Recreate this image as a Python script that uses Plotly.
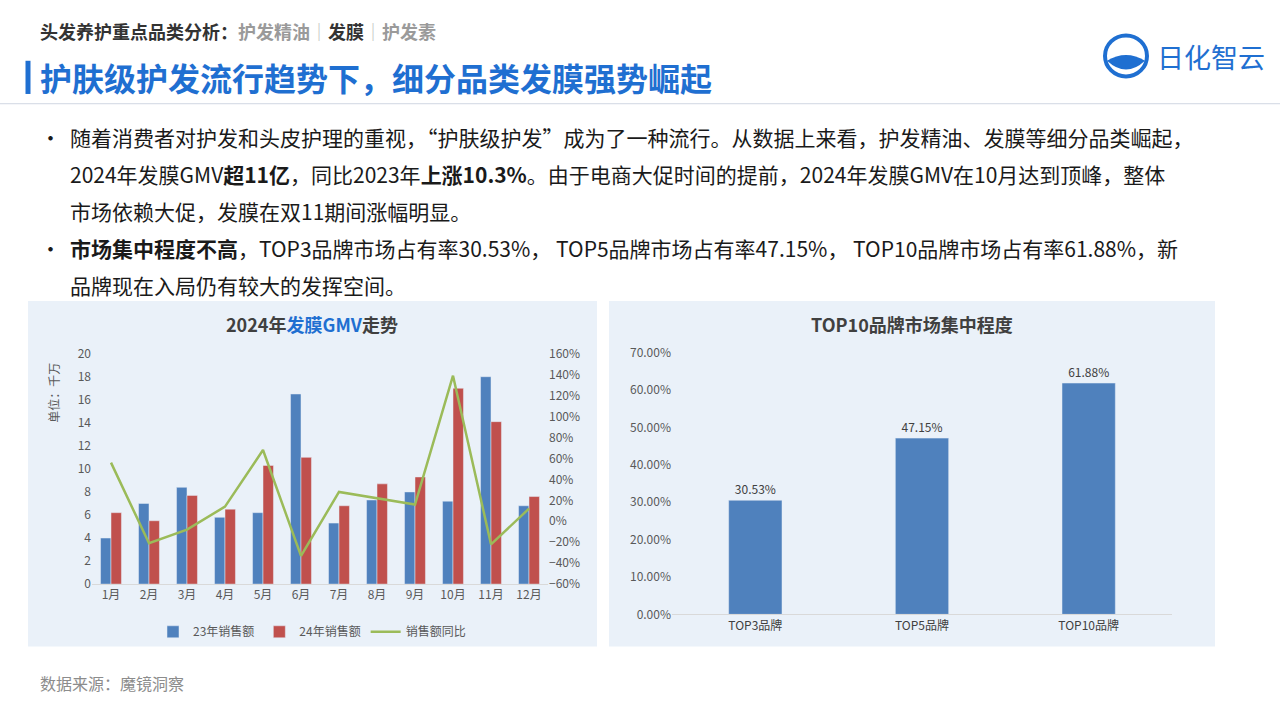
import plotly.graph_objects as go

months = ['1月', '2月', '3月', '4月', '5月', '6月', '7月', '8月', '9月', '10月', '11月', '12月']
sales_23 = [4.0, 7.0, 8.4, 5.8, 6.2, 16.5, 5.3, 7.3, 8.0, 7.2, 18.0, 6.8]
sales_24 = [6.2, 5.5, 7.7, 6.5, 10.3, 11.0, 6.8, 8.7, 9.3, 17.0, 14.1, 7.6]
yoy = [0.56, -0.21, -0.08, 0.14, 0.68, -0.33, 0.28, 0.22, 0.16, 1.39, -0.22, 0.12]

brands = ['TOP3品牌', 'TOP5品牌', 'TOP10品牌']
share = [0.3053, 0.4715, 0.6188]

W, H = 1280, 719
FONT = 'Noto Sans CJK SC'
BLUE, RED, GREEN = '#4f81bd', '#c0504d', '#9bbb59'


def px(x):
    return x / W


def py(y):
    return 1 - y / H


fig = go.Figure()
fig.add_trace(go.Bar(x=months, y=sales_23, name='23年销售额', marker_color=BLUE,
                     xaxis='x', yaxis='y'))
fig.add_trace(go.Bar(x=months, y=sales_24, name='24年销售额', marker_color=RED,
                     xaxis='x', yaxis='y'))
fig.add_trace(go.Scatter(x=months, y=yoy, name='销售额同比', mode='lines',
                         line=dict(color=GREEN, width=2.5), xaxis='x', yaxis='y3'))
fig.add_trace(go.Bar(x=brands, y=share, marker_color=BLUE, width=0.32,
                     text=[f'{v:.2%}' for v in share], textposition='outside',
                     textfont=dict(size=12, color='#404040'),
                     showlegend=False, xaxis='x2', yaxis='y2', cliponaxis=False))

tick = dict(size=12, color='#595959')
fig.update_layout(
    width=W, height=H, margin=dict(l=0, r=0, t=0, b=0),
    paper_bgcolor='white', plot_bgcolor='rgba(0,0,0,0)',
    font=dict(family=FONT, color='#333'),
    barmode='group', bargap=0.45, bargroupgap=0.0,
    xaxis=dict(domain=[px(92), px(548)], anchor='y', tickfont=tick, showline=True,
               linecolor='#d9d9d9', ticks=''),
    yaxis=dict(domain=[py(588), py(352)], range=[0, 20], dtick=2, tickfont=tick,
               showgrid=False, zeroline=False, anchor='x'),
    yaxis3=dict(overlaying='y', side='right', anchor='x', range=[-0.6, 1.6], dtick=0.2,
                tickformat='.0%', tickfont=tick, showgrid=False, zeroline=False),
    xaxis2=dict(domain=[px(672), px(1172)], anchor='y2', tickfont=dict(size=12, color='#404040'),
                showline=True, linecolor='#d9d9d9', ticks=''),
    yaxis2=dict(domain=[py(619), py(351)], range=[0, 0.7], dtick=0.1, tickformat='.2%',
                tickfont=tick, showgrid=False, zeroline=False, anchor='x2'),
    legend=dict(orientation='h', x=px(312), xanchor='center', y=py(622), yanchor='top',
                font=dict(size=12, color='#595959'), bgcolor='rgba(0,0,0,0)'),
)

shapes = [
    dict(type='rect', xref='paper', yref='paper', x0=px(28), x1=px(597), y0=py(652), y1=py(298),
         fillcolor='#eaf1f9', line_width=0, layer='below'),
    dict(type='rect', xref='paper', yref='paper', x0=px(609), x1=px(1215), y0=py(652), y1=py(298),
         fillcolor='#eaf1f9', line_width=0, layer='below'),
    dict(type='line', xref='paper', yref='paper', x0=0, x1=1, y0=py(96), y1=py(96),
         line=dict(color='#d0d7e2', width=1)),
    dict(type='line', xref='paper', yref='paper', x0=px(28), x1=px(28), y0=py(52), y1=py(86),
         line=dict(color='#1f6fd1', width=5)),
    # logo mark
    dict(type='circle', xref='paper', yref='paper', x0=px(1105), x1=px(1147), y0=py(68), y1=py(26),
         line=dict(color='#1f6fd1', width=4)),
    dict(type='path', xref='paper', yref='paper',
         path=f'M {px(1107)},{py(52)} Q {px(1126)},{py(40)} {px(1145)},{py(52)} '
              f'Q {px(1126)},{py(70)} {px(1107)},{py(52)} Z',
         fillcolor='#1f6fd1', line_width=0),
]
fig.update_layout(shapes=shapes)

body = dict(size=21, color='#1a1a1a')
ann = [
    dict(x=px(38), y=py(22), text='<b>头发养护重点品类分析：</b><span style="color:#9a9a9a"><b>护发精油</b></span>'
         '<span style="color:#bbb">│</span><b>发膜</b><span style="color:#bbb">│</span>'
         '<span style="color:#9a9a9a"><b>护发素</b></span>',
         font=dict(size=18, color='#333')),
    dict(x=px(38), y=py(69), text='<b>护肤级护发流行趋势下，细分品类发膜强势崛起</b>',
         font=dict(size=32, color='#1f6fd1')),
    dict(x=px(1155), y=py(48), text='日化智云', font=dict(size=27, color='#1f6fd1')),
    dict(x=px(38), y=py(130), text='•', font=body),
    dict(x=px(68), y=py(130), text='随着消费者对护发和头皮护理的重视，“护肤级护发”成为了一种流行。从数据上来看，护发精油、发膜等细分品类崛起，',
         font=body),
    dict(x=px(68), y=py(168), text='2024年发膜GMV<b>超11亿</b>，同比2023年<b>上涨10.3%</b>。由于电商大促时间的提前，2024年发膜GMV在10月达到顶峰，整体',
         font=body),
    dict(x=px(68), y=py(206), text='市场依赖大促，发膜在双11期间涨幅明显。', font=body),
    dict(x=px(38), y=py(244), text='•', font=body),
    dict(x=px(68), y=py(244), text='<b>市场集中程度不高</b>，TOP3品牌市场占有率30.53%， TOP5品牌市场占有率47.15%， TOP10品牌市场占有率61.88%，新',
         font=body),
    dict(x=px(68), y=py(282), text='品牌现在入局仍有较大的发挥空间。', font=body),
    dict(x=px(312), y=py(322), xanchor='center',
         text='<b>2024年<span style="color:#1f6fd1">发膜GMV</span>走势</b>', font=dict(size=18, color='#404040')),
    dict(x=px(912), y=py(322), xanchor='center', text='<b>TOP10品牌市场集中程度</b>',
         font=dict(size=18, color='#404040')),
    dict(x=px(54), y=py(392), xanchor='center', text='单位：千万', textangle=-90,
         font=dict(size=12, color='#595959')),
    dict(x=px(38), y=py(689), text='数据来源：魔镜洞察', font=dict(size=16, color='#8c8c8c')),
]
for a in ann:
    a.setdefault('xanchor', 'left')
    a.update(xref='paper', yref='paper', yanchor='middle', showarrow=False)
fig.update_layout(annotations=ann)

fig.write_html('out.html', config={'displayModeBar': False},
               post_script="document.body.style.margin='0';document.body.style.overflow='hidden';")
